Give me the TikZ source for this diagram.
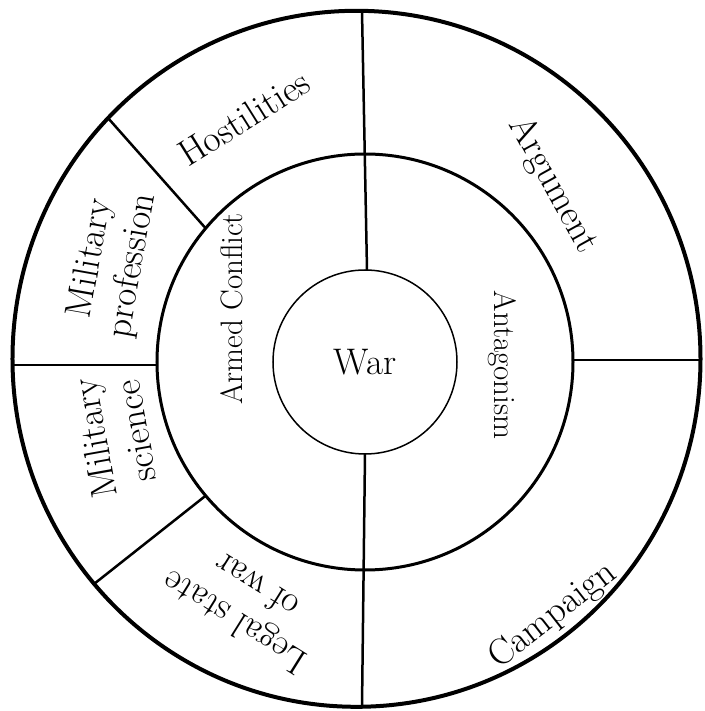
\documentclass[tikz,border=0pt]{standalone}
\usepackage{fontspec}
\usetikzlibrary{calc}

\begin{document}
\begin{tikzpicture}[x=1pt, y=1pt]
    % Define colours
    \definecolor{borderColour}{HTML}{000000}

    % Define radii
    \def\innerRadius{92}
    \def\middleRadius{208}
    \def\outerRadiusX{344}
    \def\outerRadiusY{348}

    % Fix the canvas
    \useasboundingbox (-365,-349) rectangle (339,362);

    % Define styles
    \tikzset{
        ringLabel/.style={font=\fontsize{37}{42}\selectfont, align=center, inner sep=0pt},
        midLabel/.style={font=\fontsize{31}{36}\selectfont, inner sep=0pt},
        divider/.style={draw=borderColour, line width=2.5pt}
    }

    % Define the centres
    \coordinate (Centre) at (0,0);
    \coordinate (OuterCentre) at (-8.5,3.2);

    % Draw the three rings
    \draw[borderColour, line width=4pt] (OuterCentre) ellipse [x radius=\outerRadiusX, y radius=\outerRadiusY];
    \draw[borderColour, line width=3pt] (Centre) circle (\middleRadius);
    \draw[borderColour, line width=1.5pt] (Centre) circle (\innerRadius);

    % Divider end points
    \coordinate (topIn) at (2,\innerRadius);
    \coordinate (topOut) at (-3,351);
    \coordinate (bottomIn) at (0,-\innerRadius);
    \coordinate (bottomOut) at (-3,-345);
    \coordinate (rightIn) at (\middleRadius,2);
    \coordinate (rightOut) at (336,2);
    \coordinate (leftIn) at (-\middleRadius,-3);
    \coordinate (leftOut) at (-353,-3);
    \coordinate (upperLeftIn) at (140:\middleRadius);
    \coordinate (upperLeftOut) at (-257,244);
    \coordinate (lowerLeftIn) at (220:\middleRadius);
    \coordinate (lowerLeftOut) at (-271,-222);

    % Draw dividers
    \draw[divider] (topIn) -- (topOut);
    \draw[divider] (bottomIn) -- (bottomOut);
    \draw[divider] (rightIn) -- (rightOut);
    \draw[divider] (leftIn) -- (leftOut);
    \draw[divider] (upperLeftIn) -- (upperLeftOut);
    \draw[divider] (lowerLeftIn) -- (lowerLeftOut);

    % Centre label
    \node[font=\fontsize{37}{42}\selectfont, inner sep=0pt] (war) at (Centre) {War};

    % Middle ring labels
    \node[midLabel, rotate=90] (armedConflict) at (-133,53) {Armed Conflict};
    \node[midLabel, rotate=-90] (antagonism) at (137,-3) {Antagonism};

    % Outer ring labels
    \node[ringLabel, rotate=-61] (argument) at (188,177) {Argument};
    \node[ringLabel, rotate=32] (hostilities) at (-121,244) {Hostilities};
    \node[ringLabel, rotate=80] (militaryProfession) at (-253,100) {Military\\profession};
    \node[ringLabel, rotate=100] (militaryScience) at (-250,-73) {Military\\science};
    \node[ringLabel, rotate=148] (legalState) at (-120,-243) {Legal state\\of war};
    \node[ringLabel, rotate=38] (campaign) at (188,-254) {Campaign};

\end{tikzpicture}
\end{document}
